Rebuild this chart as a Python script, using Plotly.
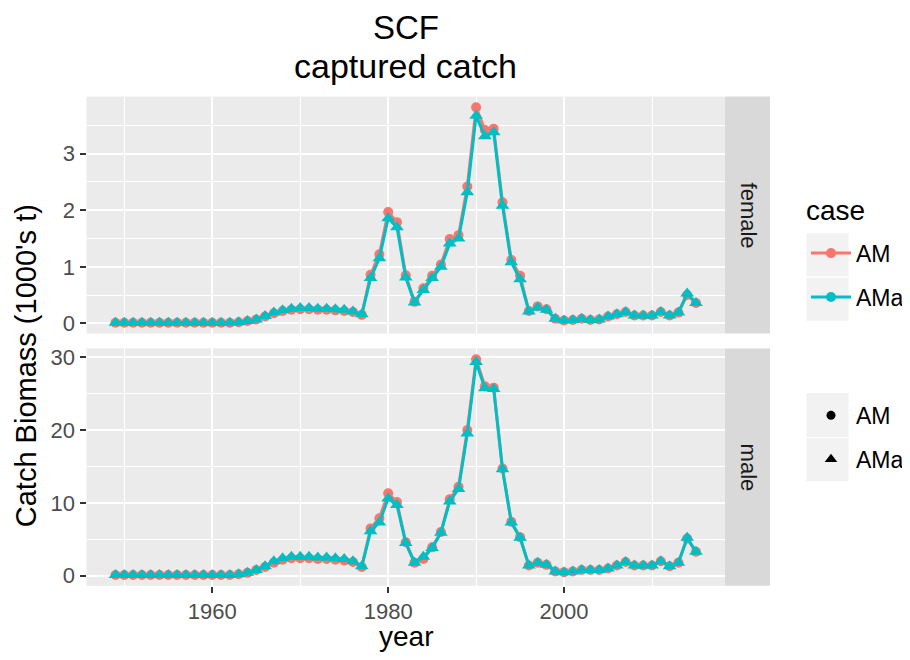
import plotly.graph_objects as go

years = list(range(1949, 2016))

female_AM = [0.01]*14 + [0.02, 0.04, 0.07, 0.12, 0.18, 0.22, 0.24, 0.25, 0.25, 0.24, 0.24, 0.23, 0.22, 0.20, 0.15,
             0.86, 1.22, 1.97, 1.79, 0.85, 0.38, 0.62, 0.84, 1.04, 1.49, 1.56, 2.42, 3.82, 3.42, 3.44, 2.14, 1.12, 0.84,
             0.22, 0.30, 0.25, 0.08, 0.05, 0.06, 0.08, 0.06, 0.07, 0.12, 0.16, 0.20, 0.14, 0.14, 0.14, 0.20, 0.14, 0.19,
             0.50, 0.36]
female_AMa = [0.01]*14 + [0.02, 0.04, 0.07, 0.13, 0.19, 0.23, 0.26, 0.27, 0.27, 0.26, 0.26, 0.25, 0.24, 0.21, 0.16,
              0.80, 1.15, 1.86, 1.70, 0.81, 0.37, 0.59, 0.80, 1.00, 1.41, 1.50, 2.32, 3.67, 3.31, 3.38, 2.08, 1.08, 0.78,
              0.21, 0.28, 0.24, 0.08, 0.05, 0.06, 0.08, 0.06, 0.07, 0.12, 0.16, 0.20, 0.14, 0.14, 0.14, 0.20, 0.14, 0.19,
              0.53, 0.36]
male_AM = [0.1]*14 + [0.2, 0.4, 0.8, 1.2, 1.8, 2.2, 2.4, 2.4, 2.4, 2.3, 2.3, 2.2, 2.1, 1.9, 1.2,
           6.5, 7.9, 11.3, 10.1, 4.6, 1.8, 2.3, 3.9, 6.0, 10.5, 12.2, 20.0, 29.7, 26.0, 25.8, 14.7, 7.4, 5.3,
           1.4, 1.8, 1.5, 0.6, 0.5, 0.6, 0.8, 0.8, 0.8, 1.0, 1.4, 1.9, 1.4, 1.4, 1.4, 2.0, 1.3, 1.8,
           5.1, 3.3]
male_AMa = [0.1]*14 + [0.2, 0.4, 0.8, 1.3, 2.0, 2.4, 2.6, 2.6, 2.6, 2.5, 2.5, 2.4, 2.3, 2.0, 1.3,
            6.1, 7.3, 10.6, 9.7, 4.5, 1.8, 2.6, 3.8, 5.9, 10.2, 11.9, 19.5, 29.3, 25.7, 25.6, 14.6, 7.3, 5.2,
            1.4, 1.8, 1.5, 0.6, 0.5, 0.6, 0.8, 0.8, 0.8, 1.0, 1.4, 1.9, 1.4, 1.4, 1.4, 2.0, 1.3, 1.8,
            5.2, 3.3]

cases = ["AM", "AMa"]
case_colors = {"AM": "#F8766D", "AMa": "#00BFC4"}
case_symbols = {"AM": "circle", "AMa": "triangle-up"}
case_sizes = {"AM": 10, "AMa": 12}
sexes = ["female", "male"]
x_ticks = [1960, 1980, 2000]
x_minor = [1950, 1970, 1990, 2010]
female_ticks = [0, 1, 2, 3]
female_minor = [0.5, 1.5, 2.5, 3.5]
male_ticks = [0, 10, 20, 30]
male_minor = [5, 15, 25]

W, H = 910, 660
OFF = 8  # page body margin
FONT = "Liberation Sans, Arial, sans-serif"


def px_x(p):
    return (p - OFF) / W


def px_y(p):
    return 1 - (p - OFF) / H


def expand(vals):
    lo, hi = min(vals), max(vals)
    d = (hi - lo) * 0.05
    return [lo - d, hi + d]


fig = go.Figure()

data = {
    ("female", "AM"): female_AM, ("female", "AMa"): female_AMa,
    ("male", "AM"): male_AM, ("male", "AMa"): male_AMa,
}
for sex, xa, ya in [("female", "x", "y"), ("male", "x2", "y2")]:
    for c in cases:
        fig.add_trace(go.Scatter(
            x=years, y=data[(sex, c)], mode="lines+markers", xaxis=xa, yaxis=ya,
            line=dict(color=case_colors[c], width=3),
            marker=dict(color=case_colors[c], symbol=case_symbols[c], size=case_sizes[c], line=dict(width=0)),
            showlegend=False, name=c))

# legend 1 (colour)
for c in cases:
    fig.add_trace(go.Scatter(
        x=[None], y=[None], mode="lines+markers", name=c, legend="legend", legendgroup="col" + c,
        line=dict(color=case_colors[c], width=3),
        marker=dict(color=case_colors[c], symbol="circle", size=10)))
# legend 2 (shape)
for c in cases:
    fig.add_trace(go.Scatter(
        x=[None], y=[None], mode="markers", name=c, legend="legend2", legendgroup="shp" + c,
        marker=dict(color="black", symbol=case_symbols[c], size=case_sizes[c] - 1)))

xl, xr = 86.5, 725
top_t, top_b = 93.5, 333
bot_t, bot_b = 348, 588
strip_r = 770

all_years_range = expand(years)
tickfont = dict(family=FONT, size=22, color="#4D4D4D")


def grid(minor_vals):
    return dict(showgrid=True, gridcolor="white", gridwidth=2.2, zeroline=False, showline=False,
                minor=dict(tickvals=minor_vals, showgrid=True, gridcolor="white", gridwidth=1.1, ticks=""))


ticks = dict(ticks="outside", ticklen=6, tickwidth=1.6, tickcolor="#333333", tickfont=tickfont)

fig.update_layout(
    width=W, height=H, margin=dict(l=0, r=0, t=0, b=0),
    paper_bgcolor="white", plot_bgcolor="#EBEBEB",
    font=dict(family=FONT, color="black"),
    xaxis=dict(domain=[px_x(xl), px_x(xr)], anchor="y", range=all_years_range,
               tickvals=x_ticks, showticklabels=False, ticks="", **grid(x_minor)),
    xaxis2=dict(domain=[px_x(xl), px_x(xr)], anchor="y2", range=all_years_range, matches="x",
                tickvals=x_ticks, **grid(x_minor), **ticks),
    yaxis=dict(domain=[px_y(top_b), px_y(top_t)], anchor="x", range=expand(female_AM + female_AMa),
               tickvals=female_ticks, **grid(female_minor), **ticks),
    yaxis2=dict(domain=[px_y(bot_b), px_y(bot_t)], anchor="x2", range=expand(male_AM + male_AMa),
                tickvals=male_ticks, **grid(male_minor), **ticks),
    legend=dict(x=px_x(806), y=px_y(230), xanchor="left", yanchor="top",
                font=dict(family=FONT, size=23, color="black"), bgcolor="rgba(0,0,0,0)",
                traceorder="grouped", tracegroupgap=11, itemwidth=40),
    legend2=dict(x=px_x(806), y=px_y(394), xanchor="left", yanchor="top",
                 font=dict(family=FONT, size=23, color="black"), bgcolor="rgba(0,0,0,0)",
                 traceorder="grouped", tracegroupgap=11, itemwidth=40),
)

shapes = []
annotations = []
for sex, (t, b) in zip(sexes, [(top_t, top_b), (bot_t, bot_b)]):
    shapes.append(dict(type="rect", xref="paper", yref="paper", x0=px_x(xr), x1=px_x(strip_r),
                       y0=px_y(b), y1=px_y(t), fillcolor="#D9D9D9", line=dict(width=0), layer="below"))
    annotations.append(dict(text=sex, xref="paper", yref="paper", x=px_x((xr + strip_r) / 2 + 1),
                            y=px_y((t + b) / 2), showarrow=False, textangle=90,
                            font=dict(family=FONT, size=22, color="#1A1A1A"),
                            xanchor="center", yanchor="middle"))

# legend key backgrounds
for y0, y1 in [(231.5, 275), (276.5, 320), (393, 437.5), (438.5, 482)]:
    shapes.append(dict(type="rect", xref="paper", yref="paper", x0=px_x(806.5), x1=px_x(848.5),
                       y0=px_y(y1), y1=px_y(y0), fillcolor="#F2F2F2", line=dict(width=0),
                       layer="below"))

annotations.append(dict(text="case", xref="paper", yref="paper", x=px_x(804), y=px_y(209),
                        xanchor="left", yanchor="middle", showarrow=False,
                        font=dict(family=FONT, size=28, color="black")))
annotations.append(dict(text="SCF", xref="paper", yref="paper", x=px_x((xl + xr) / 2),
                        y=px_y(24), xanchor="center", yanchor="middle", showarrow=False,
                        font=dict(family=FONT, size=33, color="black")))
annotations.append(dict(text="captured catch", xref="paper", yref="paper", x=px_x((xl + xr) / 2),
                        y=px_y(63), xanchor="center", yanchor="middle", showarrow=False,
                        font=dict(family=FONT, size=34, color="black")))
annotations.append(dict(text="year", xref="paper", yref="paper", x=px_x((xl + xr) / 2),
                        y=px_y(639), xanchor="center", yanchor="middle", showarrow=False,
                        font=dict(family=FONT, size=28, color="black")))
annotations.append(dict(text="Catch Biomass (1000's t)", xref="paper", yref="paper", x=px_x(26),
                        y=px_y(366), xanchor="center", yanchor="middle", showarrow=False,
                        textangle=-90, font=dict(family=FONT, size=29, color="black")))

fig.update_layout(shapes=shapes, annotations=annotations)

fig.write_html("out.html")
